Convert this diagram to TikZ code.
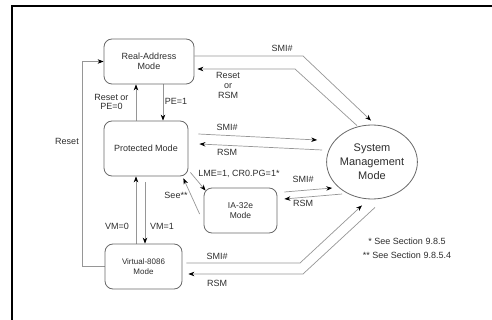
\documentclass[tikz,border=0pt]{standalone}
\usepackage{fontspec}
\setmainfont{Liberation Sans}
\usepackage{tikz}
\usetikzlibrary{shapes,arrows.meta}
\definecolor{modegray}{RGB}{105,105,105}
\definecolor{linkgray}{RGB}{150,150,150}
\definecolor{txtgray}{RGB}{45,45,45}
\pgfdeclarelayer{edgelayer}
\pgfdeclarelayer{nodelayer}
\pgfsetlayers{edgelayer,nodelayer,main}
\tikzstyle{none}=[inner sep=0pt]
\tikzstyle{mode}=[rectangle,rounded corners=8pt,draw=modegray,line width=0.8pt,fill=white,text=txtgray,align=center,inner sep=0pt,font=\fontsize{9}{10}\selectfont]
\tikzstyle{smmode}=[ellipse,draw=modegray,line width=0.8pt,fill=white,text=txtgray,align=center,inner sep=0pt,minimum width=82pt,minimum height=74pt,font=\fontsize{11}{14}\selectfont]
\tikzstyle{lbl}=[inner sep=0pt,text=txtgray,align=center,font=\fontsize{9}{9.6}\selectfont]
\tikzstyle{link}=[-,draw=linkgray,line width=0.7pt]
\tikzstyle{inarrow}=[-{Stealth[length=6pt,width=4.5pt,color=black]},draw=linkgray,line width=0.7pt]
\tikzstyle{frame}=[-,draw=black,line width=1.4pt]

\begin{document}
\begin{tikzpicture}[x=1pt,y=-1pt]
	\useasboundingbox (0,0) rectangle (492,320);
	\begin{pgfonlayer}{nodelayer}
		\node [style=mode,minimum width=90pt,minimum height=45pt] (real) at (149, 61.5) {Real-Address\\Mode};
		\node [style=mode,minimum width=84pt,minimum height=55pt] (prot) at (146, 148.5) {Protected Mode};
		\node [style=mode,minimum width=77pt,minimum height=45pt,font=\fontsize{8}{10}\selectfont] (virt) at (143.5, 266.5) {Virtual-8086\\Mode};
		\node [style=mode,minimum width=73pt,minimum height=45pt,font=\fontsize{8.5}{10}\selectfont] (ia) at (240.5, 210.5) {IA-32e\\Mode};
		\node [style=smmode] (smm) at (372, 162) {System\\Management\\Mode};
		\node [style=none] (FL) at (12, 320) {};
		\node [style=none] (FTL) at (12, 6) {};
		\node [style=none] (FR) at (492, 6) {};
		\node [style=none] (RB) at (82, 266.5) {};
		\node [style=none] (RT) at (82, 61.5) {};
		\node [style=none] (SA) at (303, 56) {};
		\node [style=none] (SB) at (295, 69) {};
		\node [style=none] (VA) at (300, 263) {};
		\node [style=none] (VB) at (303, 274) {};
		\node [style=lbl] at (67, 141) {Reset};
		\node [style=lbl] at (176, 101) {PE=1};
		\node [style=lbl] at (111.5, 102) {Reset or\\PE=0};
		\node [style=lbl] at (162, 226) {VM=1};
		\node [style=lbl] at (117, 226) {VM=0};
		\node [style=lbl] at (239, 174) {LME=1, CR0.PG=1*};
		\node [style=lbl] at (176, 195) {See**};
		\node [style=lbl] at (303, 179) {SMI\#};
		\node [style=lbl] at (303, 203) {RSM};
		\node [style=lbl] at (227, 127) {SMI\#};
		\node [style=lbl] at (227, 152) {RSM};
		\node [style=lbl] at (282, 48) {SMI\#};
		\node [style=lbl] at (228, 85.5) {Reset\\or\\RSM};
		\node [style=lbl] at (217, 256) {SMI\#};
		\node [style=lbl] at (217, 283) {RSM};
		\node [style=lbl] at (407, 241) {* See Section 9.8.5};
		\node [style=lbl] at (407, 255) {** See Section 9.8.5.4};
	\end{pgfonlayer}
	\begin{pgfonlayer}{edgelayer}
		\draw [style=frame] (FL.center) to (FTL.center) to (FR.center);
		% reset loop on the left
		\draw [style=inarrow] (virt.west) to (RB.center) to (RT.center) to (real.west);
		% real <-> protected
		\draw [style=inarrow] ([xshift=14pt]real.south) to ([xshift=14pt]real.south |- prot.north);
		\draw [style=inarrow] ([xshift=-10pt]prot.north) to ([xshift=-10pt]prot.north |- real.south);
		% protected <-> virtual-8086
		\draw [style=inarrow] ([xshift=-1pt,yshift=-6pt]prot.south) to ([xshift=-1pt]prot.south |- virt.north);
		\draw [style=inarrow] ([xshift=-7.5pt]virt.north) to ([xshift=-7.5pt]virt.north |- prot.south);
		% protected <-> ia-32e
		\draw [style=inarrow] ([xshift=2pt,yshift=4pt]prot.south east) to ([xshift=2pt,yshift=-3pt]ia.north west);
		\draw [style=inarrow] ([xshift=-4pt,yshift=-3.5pt]ia.west) to ([xshift=-5pt,yshift=-2pt]prot.south east);
		% ia-32e <-> smm
		\draw [style=inarrow] ([xshift=7pt,yshift=18.5pt]ia.east) to ([xshift=6pt,yshift=-26pt]smm.west);
		\draw [style=inarrow] ([xshift=16pt,yshift=-32pt]smm.west) to ([xshift=7pt,yshift=11.5pt]ia.east);
		% protected <-> smm
		\draw [style=inarrow] ([xshift=10pt,yshift=14.5pt]prot.east) to ([xshift=-9pt,yshift=22pt]smm.west);
		\draw [style=inarrow] ([xshift=-4pt,yshift=12pt]smm.west) to ([xshift=11pt,yshift=4.5pt]prot.east);
		% real <-> smm
		\draw [style=inarrow] ([yshift=5.5pt]real.east) to (SA.center) to ([xshift=-1pt,yshift=4pt]smm.north);
		\draw [style=inarrow] ([xshift=-15pt,yshift=-1pt]smm.north) to (SB.center) to ([xshift=3pt,yshift=-7.5pt]real.east);
		% virtual-8086 <-> smm
		\draw [style=inarrow] ([xshift=4pt,yshift=3.5pt]virt.east) to (VA.center) to ([xshift=-10pt,yshift=-6pt]smm.south);
		\draw [style=inarrow] ([xshift=3pt,yshift=-8pt]smm.south) to (VB.center) to ([xshift=6pt,yshift=-7.5pt]virt.east);
	\end{pgfonlayer}
\end{tikzpicture}
\end{document}
